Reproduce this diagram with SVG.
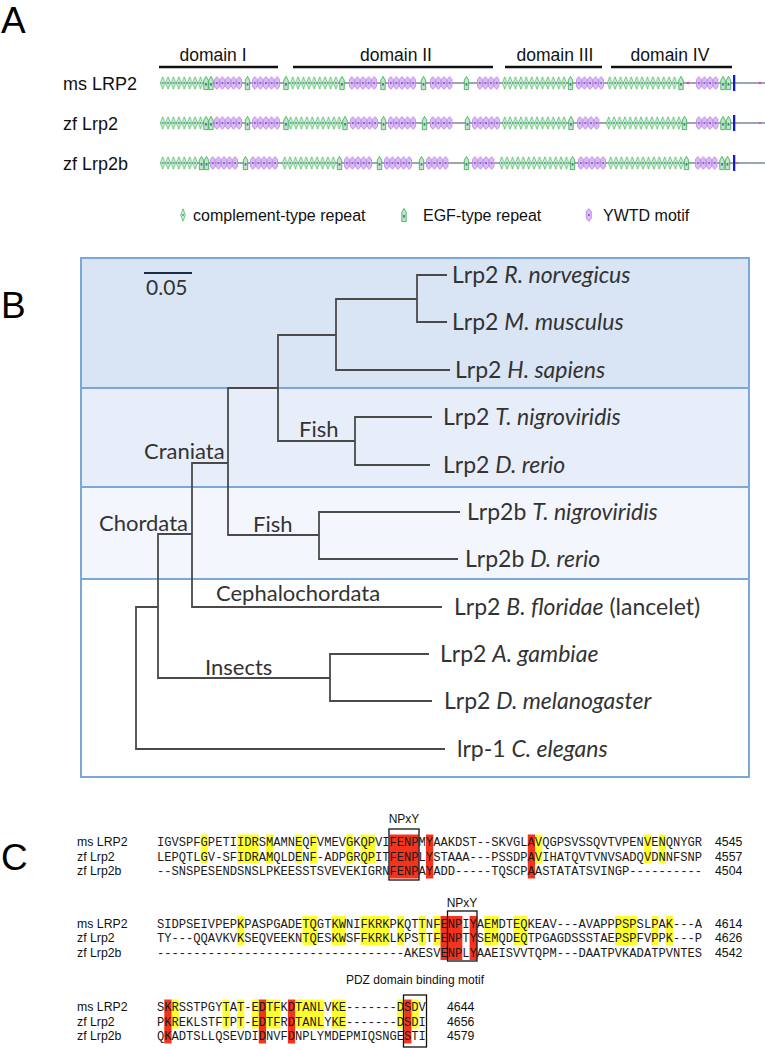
<svg xmlns="http://www.w3.org/2000/svg" width="765" height="1050" viewBox="0 0 765 1050">
<style>
.pl{font-family:"Liberation Sans",Arial,sans-serif;font-size:37px;fill:#000}
.dom{font-family:"Liberation Sans",Arial,sans-serif;font-size:17.5px;fill:#111;text-anchor:middle}
.rl{font-family:"Liberation Sans",Arial,sans-serif;font-size:18px;fill:#111}
.lg{font-family:"Liberation Sans",Arial,sans-serif;font-size:16px;fill:#111}
.bb{stroke:#7d8796;stroke-width:1.6}
.dbar{stroke:#111;stroke-width:2.5}
.tl{font-family:Lato,"Open Sans",sans-serif;font-size:22px;fill:#333}
.lf{font-family:Lato,"Open Sans",sans-serif;font-size:23px;fill:#333}
.i{font-style:italic}
.br{fill:none;stroke:#4a4a4a;stroke-width:1.8}
.sep{stroke:#7ba7d9;stroke-width:2}
.seq{font-family:"Liberation Mono","Courier New",monospace;font-size:12.12px;fill:#1a1a1a}
.al{font-family:"Liberation Sans",Arial,sans-serif;font-size:12.3px;fill:#111}
.mot{font-family:"Liberation Sans",Arial,sans-serif;font-size:12px;fill:#111;text-anchor:middle}
.yl{fill:#ffff2e}
.rd{fill:#f5331c}
.box{fill:none;stroke:#111;stroke-width:1.3}
.mg{fill:#ff33cc}
</style>
<defs>
<g id="cg"><path d="M2.7 0.8 L5.1 7 L2.7 13.2 L0.3 7Z" fill="#c9efd0" stroke="#39b54a" stroke-width="0.7"/><circle cx="2.7" cy="7" r="0.9" fill="#6b6bd6"/></g>
<g id="yg"><path d="M2.8 0.6 L5.3 3.6 L5.3 10.4 L2.8 13.4 L0.3 10.4 L0.3 3.6Z" fill="#dcbaf2" stroke="#b36ee0" stroke-width="0.7"/><circle cx="2.8" cy="7" r="1" fill="#5a5ae0"/></g>
<g id="eg"><path d="M0.3 13.6 V4.2 L2.5 0.4 L4.7 4.2 V13.6Z" fill="#bfe9c6" stroke="#2fa84a" stroke-width="0.8"/><rect x="1.6" y="7" width="1.8" height="2.6" fill="#6060d0"/></g>
<pattern id="pc" patternUnits="userSpaceOnUse" width="5.4" height="14"><use href="#cg"/></pattern>
<pattern id="py" patternUnits="userSpaceOnUse" width="5.6" height="14"><use href="#yg"/></pattern>
</defs>

<!-- Panel A -->
<g id="panelA">
<text class="pl" x="1" y="33">A</text>
<g id="domains">
<text class="dom" x="213" y="61">domain I</text>
<text class="dom" x="396" y="61">domain II</text>
<text class="dom" x="555" y="61">domain III</text>
<text class="dom" x="670" y="61">domain IV</text>
<line class="dbar" x1="159" y1="67" x2="278" y2="67"/>
<line class="dbar" x1="293" y1="67" x2="493" y2="67"/>
<line class="dbar" x1="505" y1="67" x2="602" y2="67"/>
<line class="dbar" x1="611" y1="67" x2="732" y2="67"/>
</g>
<g id="row-msLRP2">
<text class="rl" x="63" y="89.5">ms LRP2</text>
<g transform="translate(0,76)">
<line class="bb" x1="160" y1="7" x2="765" y2="7"/>
<rect transform="translate(160,0)" width="43.2" height="14" fill="url(#pc)"/>
<use href="#eg" x="203.5"/><use href="#eg" x="208.5"/>
<rect transform="translate(214,0)" width="28" height="14" fill="url(#py)"/>
<use href="#eg" x="245"/>
<rect transform="translate(252,0)" width="28" height="14" fill="url(#py)"/>
<use href="#eg" x="283.5"/>
<rect transform="translate(290,0)" width="48.6" height="14" fill="url(#pc)"/>
<use href="#eg" x="339.5"/>
<rect transform="translate(349,0)" width="28" height="14" fill="url(#py)"/>
<use href="#eg" x="380.5"/>
<rect transform="translate(388,0)" width="28" height="14" fill="url(#py)"/>
<use href="#eg" x="421"/>
<rect transform="translate(430,0)" width="22.4" height="14" fill="url(#py)"/>
<use href="#eg" x="464"/>
<rect transform="translate(477,0)" width="22.4" height="14" fill="url(#py)"/>
<rect transform="translate(502,0)" width="64.8" height="14" fill="url(#pc)"/>
<use href="#eg" x="568"/>
<rect transform="translate(576,0)" width="28" height="14" fill="url(#py)"/>
<rect transform="translate(607,0)" width="70.2" height="14" fill="url(#pc)"/>
<use href="#eg" x="678.5"/>
<circle class="mg" cx="688" cy="7" r="1.3"/>
<rect transform="translate(696,0)" width="22.4" height="14" fill="url(#py)"/>
<use href="#eg" x="720.5"/><use href="#eg" x="726"/>
<rect x="733" y="-1" width="2.3" height="16" fill="#1a1acc"/>
<circle class="mg" cx="760" cy="7" r="1.3"/>
</g>
</g>
<g id="row-zfLrp2">
<text class="rl" x="63" y="129.5">zf Lrp2</text>
<g transform="translate(0,116)">
<line class="bb" x1="160" y1="7" x2="765" y2="7"/>
<rect transform="translate(160,0)" width="43.2" height="14" fill="url(#pc)"/>
<use href="#eg" x="203.5"/><use href="#eg" x="208.5"/>
<rect transform="translate(214,0)" width="28" height="14" fill="url(#py)"/>
<use href="#eg" x="245"/>
<rect transform="translate(252,0)" width="28" height="14" fill="url(#py)"/>
<use href="#eg" x="283.5"/>
<rect transform="translate(288,0)" width="54" height="14" fill="url(#pc)"/>
<use href="#eg" x="342.5"/>
<rect transform="translate(350,0)" width="28" height="14" fill="url(#py)"/>
<use href="#eg" x="381"/>
<rect transform="translate(388,0)" width="28" height="14" fill="url(#py)"/>
<use href="#eg" x="422"/>
<rect transform="translate(430,0)" width="22.4" height="14" fill="url(#py)"/>
<use href="#eg" x="465"/>
<rect transform="translate(472,0)" width="28" height="14" fill="url(#py)"/>
<rect transform="translate(502,0)" width="64.8" height="14" fill="url(#pc)"/>
<use href="#eg" x="568.5"/>
<rect transform="translate(577,0)" width="22.4" height="14" fill="url(#py)"/>
<rect transform="translate(606,0)" width="75.6" height="14" fill="url(#pc)"/>
<use href="#eg" x="682"/>
<rect transform="translate(696,0)" width="22.4" height="14" fill="url(#py)"/>
<use href="#eg" x="720.5"/><use href="#eg" x="726"/>
<rect x="733" y="-1" width="2.3" height="16" fill="#1a1acc"/>
<circle class="mg" cx="760" cy="7" r="1.1"/>
</g>
</g>
<g id="row-zfLrp2b">
<text class="rl" x="63" y="169.5">zf Lrp2b</text>
<g transform="translate(0,156)">
<line class="bb" x1="160" y1="7" x2="765" y2="7"/>
<rect transform="translate(160,0)" width="37.8" height="14" fill="url(#pc)"/>
<use href="#eg" x="199"/><use href="#eg" x="204"/>
<rect transform="translate(210,0)" width="28" height="14" fill="url(#py)"/>
<use href="#eg" x="243"/>
<rect transform="translate(250,0)" width="28" height="14" fill="url(#py)"/>
<rect transform="translate(282,0)" width="54" height="14" fill="url(#pc)"/>
<use href="#eg" x="337"/>
<rect transform="translate(344,0)" width="28" height="14" fill="url(#py)"/>
<use href="#eg" x="377"/>
<rect transform="translate(384,0)" width="28" height="14" fill="url(#py)"/>
<use href="#eg" x="419"/>
<rect transform="translate(426,0)" width="22.4" height="14" fill="url(#py)"/>
<use href="#eg" x="464"/>
<rect transform="translate(472,0)" width="22.4" height="14" fill="url(#py)"/>
<rect transform="translate(499,0)" width="70.2" height="14" fill="url(#pc)"/>
<use href="#eg" x="570"/>
<rect transform="translate(578,0)" width="28" height="14" fill="url(#py)"/>
<rect transform="translate(608,0)" width="75.6" height="14" fill="url(#pc)"/>
<use href="#eg" x="684"/>
<rect transform="translate(695,0)" width="22.4" height="14" fill="url(#py)"/>
<use href="#eg" x="719.5"/><use href="#eg" x="725"/>
<rect x="733" y="-1" width="2.3" height="16" fill="#1a1acc"/>
<circle class="mg" cx="737.5" cy="7" r="1.1"/>
</g>
</g>
<g id="legend">
<use href="#cg" x="180.3" y="208"/>
<text class="lg" x="193" y="221">complement-type repeat</text>
<use href="#eg" x="401.5" y="208"/>
<text class="lg" x="423" y="221">EGF-type repeat</text>
<use href="#yg" x="586" y="208"/>
<text class="lg" x="603" y="221">YWTD motif</text>
</g>
</g>

<!-- Panel B -->
<g id="panelB">
<text class="pl" x="1" y="318">B</text>
<rect x="81" y="258" width="668" height="130" fill="#d9e5f5"/>
<rect x="81" y="388" width="668" height="99" fill="#e7eef9"/>
<rect x="81" y="487" width="668" height="92" fill="#f3f6fc"/>
<rect x="81" y="579" width="668" height="198" fill="#ffffff"/>
<line class="sep" x1="81" y1="388" x2="749" y2="388"/>
<line class="sep" x1="81" y1="487" x2="749" y2="487"/>
<line class="sep" x1="81" y1="579" x2="749" y2="579"/>
<rect x="81" y="258" width="668" height="519" fill="none" stroke="#7ba7d9" stroke-width="2"/>
<g id="scale">
<line x1="144" y1="273" x2="192" y2="273" stroke="#1c2a44" stroke-width="2.2"/>
<text class="tl" x="146" y="295" style="font-size:21px">0.05</text>
</g>
<g id="connectors">
<path class="br" d="M447 275 H417 V322 H447"/>
<path class="br" d="M417 299 H336 V370 H450"/>
<path class="br" d="M336 335 H278 V441 H355"/>
<path class="br" d="M432 417 H355 V465 H430"/>
<path class="br" d="M278 388 H228 V535 H319"/>
<path class="br" d="M460 512 H319 V559 H458"/>
<path class="br" d="M228 463 H192 V607 H442"/>
<path class="br" d="M192 534 H158 V678 H330"/>
<path class="br" d="M429 654 H330 V701 H432"/>
<path class="br" d="M158 607 H136 V749 H445"/>
</g>
<g id="clades">
<text class="tl" x="299" y="437">Fish</text>
<text class="tl" x="253" y="532">Fish</text>
<text class="tl" x="144" y="459">Craniata</text>
<text class="tl" x="99" y="531">Chordata</text>
<text class="tl" x="216" y="601">Cephalochordata</text>
<text class="tl" x="205" y="675">Insects</text>
</g>
<g id="leaf-rat"><text class="lf" x="452" y="283">Lrp2 <tspan class="i">R. norvegicus</tspan></text></g>
<g id="leaf-mouse"><text class="lf" x="452" y="330">Lrp2 <tspan class="i">M. musculus</tspan></text></g>
<g id="leaf-human"><text class="lf" x="455" y="378">Lrp2 <tspan class="i">H. sapiens</tspan></text></g>
<g id="leaf-tnig"><text class="lf" x="443" y="425">Lrp2 <tspan class="i">T. nigroviridis</tspan></text></g>
<g id="leaf-drer"><text class="lf" x="443" y="473">Lrp2 <tspan class="i">D. rerio</tspan></text></g>
<g id="leaf-tnig2b"><text class="lf" x="467" y="520">Lrp2b <tspan class="i">T. nigroviridis</tspan></text></g>
<g id="leaf-drer2b"><text class="lf" x="465" y="567">Lrp2b <tspan class="i">D. rerio</tspan></text></g>
<g id="leaf-bflo"><text class="lf" x="454" y="615">Lrp2 <tspan class="i">B. floridae</tspan> (lancelet)</text></g>
<g id="leaf-agam"><text class="lf" x="440" y="662">Lrp2 <tspan class="i">A. gambiae</tspan></text></g>
<g id="leaf-dmel"><text class="lf" x="444" y="709">Lrp2 <tspan class="i">D. melanogaster</tspan></text></g>
<g id="leaf-cele"><text class="lf" x="457" y="757">lrp-1 <tspan class="i">C. elegans</tspan></text></g>
</g>

<!-- Panel C -->
<g id="panelC">
<text class="pl" x="1" y="870">C</text>
<g id="block1">
<g transform="translate(157,834.5) scale(7.27,1)">
<rect class="yl" x="6" width="1" height="29"/>
<rect class="yl" x="11" width="3" height="29"/>
<rect class="yl" x="15" width="1" height="29"/>
<rect class="yl" x="19" width="1" height="29"/>
<rect class="yl" x="21" width="1" height="29"/>
<rect class="yl" x="26" width="1" height="29"/>
<rect class="yl" x="28" width="2" height="29"/>
<rect class="yl" x="52" width="1" height="29"/>
<rect class="yl" x="67" width="1" height="29"/>
<rect class="yl" x="69" width="1" height="29"/>
<rect class="rd" x="32" width="4" height="44"/>
<rect class="rd" x="37" width="1" height="44"/>
<rect class="rd" x="51" width="1" height="44"/>
</g>
<text class="mot" x="404" y="823">NPxY</text>
<rect class="box" x="389" y="829" width="30" height="51"/>
<text class="al" x="77" y="846">ms LRP2</text>
<text class="al" x="77" y="860.5">zf Lrp2</text>
<text class="al" x="77" y="875">zf Lrp2b</text>
<text class="seq" x="157" y="846.2">IGVSPFGPETIIDRSMAMNEQFVMEVGKQPVIFENPMYAAKDST--SKVGLAVQGPSVSSQVTVPENVENQNYGR</text>
<text class="seq" x="157" y="860.7">LEPQTLGV-SFIDRAMQLDENF-ADPGRQPITFENPLYSTAAA---PSSDPAVIHATQVTVNVSADQVDNNFSNP</text>
<text class="seq" x="157" y="875.2">--SNSPESENDSNSLPKEESSTSVEVEKIGRNFENPAYADD-----TQSCPAASTATATSVINGP----------</text>
<text class="al" x="715" y="846">4545</text>
<text class="al" x="715" y="860.5">4557</text>
<text class="al" x="715" y="875">4504</text>
</g>
<g id="block2">
<g transform="translate(157,916) scale(7.27,1)">
<rect class="yl" x="11" width="1" height="29"/>
<rect class="yl" x="20" width="2" height="29"/>
<rect class="yl" x="24" width="2" height="29"/>
<rect class="yl" x="28" width="4" height="29"/>
<rect class="yl" x="33" width="1" height="29"/>
<rect class="yl" x="36" width="1" height="29"/>
<rect class="yl" x="38" width="1" height="29"/>
<rect class="yl" x="45" width="2" height="29"/>
<rect class="yl" x="49" width="2" height="29"/>
<rect class="yl" x="63" width="3" height="29"/>
<rect class="yl" x="68" width="1" height="29"/>
<rect class="yl" x="70" width="1" height="29"/>
<rect class="rd" x="39" width="3" height="44"/>
<rect class="rd" x="43" width="1" height="44"/>
</g>
<text class="mot" x="462" y="907">NPxY</text>
<rect class="box" x="447.5" y="911" width="29.5" height="50"/>
<text class="al" x="77" y="927.5">ms LRP2</text>
<text class="al" x="77" y="942">zf Lrp2</text>
<text class="al" x="77" y="956.5">zf Lrp2b</text>
<text class="seq" x="157" y="927.7">SIDPSEIVPEPKPASPGADETQGTKWNIFKRKPKQTTNFENPIYAEMDTEQKEAV---AVAPPPSPSLPAK---A</text>
<text class="seq" x="157" y="942.2">TY---QQAVKVKSEQVEEKNTQESKWSFFKRKLKPSTTFENPTYSEMQDEQTPGAGDSSSTAEPSPFVPPK---P</text>
<text class="seq" x="157" y="956.7">----------------------------------AKESVENPLYAAEISVVTQPM---DAATPVKADATPVNTES</text>
<text class="al" x="715" y="927.5">4614</text>
<text class="al" x="715" y="942">4626</text>
<text class="al" x="715" y="956.5">4542</text>
</g>
<g id="block3">
<g transform="translate(157,999.5) scale(7.27,1)">
<rect class="yl" x="2" width="1" height="29"/>
<rect class="yl" x="9" width="1" height="29"/>
<rect class="yl" x="11" width="1" height="29"/>
<rect class="yl" x="13" width="1" height="29"/>
<rect class="yl" x="15" width="2" height="29"/>
<rect class="yl" x="19" width="4" height="29"/>
<rect class="yl" x="24" width="2" height="29"/>
<rect class="yl" x="33" width="1" height="29"/>
<rect class="yl" x="35" width="1" height="29"/>
<rect class="rd" x="1" width="1" height="44"/>
<rect class="rd" x="14" width="1" height="44"/>
<rect class="rd" x="18" width="1" height="44"/>
<rect class="rd" x="34" width="1" height="44"/>
</g>
<text class="mot" x="415" y="984">PDZ domain binding motif</text>
<rect class="box" x="403.5" y="995" width="23" height="52"/>
<text class="al" x="77" y="1011">ms LRP2</text>
<text class="al" x="77" y="1025.5">zf Lrp2</text>
<text class="al" x="77" y="1040">zf Lrp2b</text>
<text class="seq" x="157" y="1011.2">SKRSSTPGYTAT-EDTFKDTANLVKE-------DSDV</text>
<text class="seq" x="157" y="1025.7">PKREKLSTFTPT-EDTFRDTANLYKE-------DSDI</text>
<text class="seq" x="157" y="1040.2">QKADTSLLQSEVDIDNVFDNPLYMDEPMIQSNGESTI</text>
<text class="al" x="447" y="1011">4644</text>
<text class="al" x="447" y="1025.5">4656</text>
<text class="al" x="447" y="1040">4579</text>
</g>
</g>
</svg>
